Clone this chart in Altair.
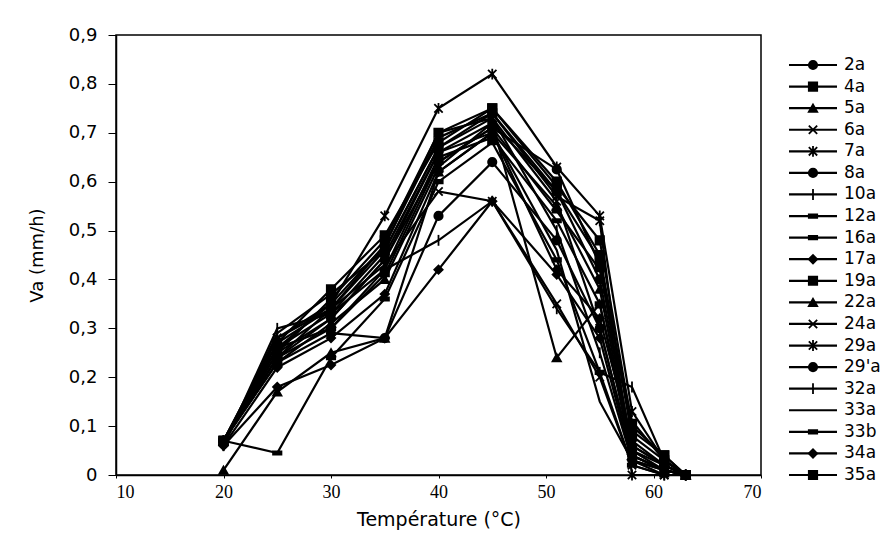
import altair as alt
import pandas as pd

# Temperatures (°C)
temps = [20, 25, 30, 35, 40, 45, 51, 55, 58, 61, 63]

# Series names (legend order)
names = ["2a", "4a", "5a", "6a", "7a", "8a", "10a", "12a", "16a", "17a",
         "19a", "22a", "24a", "29a", "29'a", "32a", "33a", "33b", "34a", "35a"]

# Va (mm/h) values, one list per series
s_2a   = [0.07, 0.26, 0.33, 0.45, 0.66, 0.72, 0.58, 0.40, 0.06, 0.02, 0.0]
s_4a   = [0.07, 0.25, 0.36, 0.48, 0.70, 0.75, 0.60, 0.45, 0.08, 0.03, 0.0]
s_5a   = [0.01, 0.17, 0.25, 0.28, 0.62, 0.70, 0.55, 0.38, 0.05, 0.01, 0.0]
s_6a   = [0.07, 0.27, 0.34, 0.47, 0.70, 0.73, 0.56, 0.30, 0.04, 0.01, 0.0]
s_7a   = [0.07, 0.28, 0.35, 0.53, 0.75, 0.82, 0.63, 0.53, 0.13, 0.03, 0.0]
s_8a   = [0.07, 0.24, 0.32, 0.44, 0.64, 0.71, 0.625, 0.43, 0.05, 0.02, 0.0]
s_10a  = [0.06, 0.29, 0.37, 0.46, 0.67, 0.73, 0.50, 0.25, 0.03, 0.0, 0.0]
s_12a  = [0.07, 0.045, 0.24, 0.36, 0.60, 0.68, 0.44, 0.21, 0.02, 0.0, 0.0]
s_16a  = [0.07, 0.26, 0.30, 0.42, 0.65, 0.69, 0.52, 0.35, 0.06, 0.02, 0.0]
s_17a  = [0.06, 0.18, 0.225, 0.28, 0.42, 0.56, 0.41, 0.28, 0.03, 0.01, 0.0]
s_19a  = [0.07, 0.27, 0.38, 0.49, 0.68, 0.75, 0.59, 0.48, 0.10, 0.04, 0.0]
s_22a  = [0.07, 0.23, 0.31, 0.40, 0.63, 0.72, 0.24, 0.35, 0.04, 0.01, 0.0]
s_24a  = [0.07, 0.28, 0.34, 0.43, 0.58, 0.56, 0.35, 0.20, 0.02, 0.0, 0.0]
s_29a  = [0.07, 0.26, 0.35, 0.47, 0.69, 0.74, 0.57, 0.52, 0.0, 0.0, 0.0]
s_29pa = [0.07, 0.23, 0.29, 0.28, 0.53, 0.64, 0.48, 0.30, 0.04, 0.01, 0.0]
s_32a  = [0.06, 0.30, 0.33, 0.42, 0.48, 0.56, 0.34, 0.21, 0.18, 0.03, 0.0]
s_33a  = [0.07, 0.25, 0.32, 0.44, 0.66, 0.70, 0.46, 0.15, 0.03, 0.01, 0.0]
s_33b  = [0.07, 0.24, 0.30, 0.41, 0.64, 0.71, 0.54, 0.42, 0.11, 0.03, 0.0]
s_34a  = [0.06, 0.22, 0.28, 0.37, 0.62, 0.70, 0.42, 0.32, 0.07, 0.02, 0.0]
s_35a  = [0.07, 0.24, 0.34, 0.46, 0.67, 0.74, 0.58, 0.44, 0.09, 0.04, 0.0]

series = [s_2a, s_4a, s_5a, s_6a, s_7a, s_8a, s_10a, s_12a, s_16a, s_17a,
          s_19a, s_22a, s_24a, s_29a, s_29pa, s_32a, s_33a, s_33b, s_34a, s_35a]

# Marker shapes per series
CIRCLE = "circle"
SQUARE = "square"
TRI = "triangle-up"
XS = "M-1,-1L1,1M-1,1L1,-1"
AST = "M-1,-1L1,1M-1,1L1,-1M0,-1.3L0,1.3"
PLUS = "M0,-1.3L0,1.3"
DASH = "M-1,-0.4L1,-0.4L1,0.4L-1,0.4Z"
DIAM = "diamond"
NONE = "M0,0L0,0"
shapes = [CIRCLE, SQUARE, TRI, XS, AST, CIRCLE, PLUS, DASH, DASH, DIAM,
          SQUARE, TRI, XS, AST, CIRCLE, PLUS, NONE, DASH, DIAM, SQUARE]

rows = []
for n, vals in zip(names, series):
    for t, v in zip(temps, vals):
        rows.append({"serie": n, "T": t, "Va": v})
df = pd.DataFrame(rows)

shape_scale = alt.Scale(domain=names, range=shapes)

x_enc = alt.X("T:Q", scale=alt.Scale(domain=[10, 70], nice=False),
              axis=alt.Axis(values=[10, 20, 30, 40, 50, 60, 70], format="d",
                            title="Température (°C)", grid=False,
                            labelFont="Liberation Serif", labelFontSize=18,
                            labelColor="black", labelPadding=5,
                            titleFont="DejaVu Sans", titleFontSize=19,
                            titleFontWeight="normal", titleColor="black",
                            titlePadding=9, tickSize=3, tickColor="black",
                            domainColor="black", domainWidth=1.5))
y_enc = alt.Y("Va:Q", scale=alt.Scale(domain=[0, 0.9], nice=False),
              axis=alt.Axis(values=[0, 0.1, 0.2, 0.3, 0.4, 0.5, 0.6, 0.7, 0.8, 0.9],
                            labelExpr="datum.value == 0 ? '0' : replace(format(datum.value, '.1f'), '.', ',')",
                            title="Va (mm/h)", grid=False,
                            labelFont="DejaVu Sans", labelFontSize=18,
                            labelColor="black", labelPadding=11,
                            titleFont="DejaVu Sans", titleFontSize=18,
                            titleFontWeight="normal", titleColor="black",
                            titlePadding=22, tickSize=8, tickColor="black",
                            domainColor="black", domainWidth=1.5))

base = alt.Chart(df)
lines = base.mark_line(color="black", strokeWidth=2.2).encode(
    x=x_enc, y=y_enc, detail="serie:N", order="T:Q")
points = base.mark_point(filled=True, color="black", stroke="black",
                         strokeWidth=1.8, opacity=1, size=70).encode(
    x=x_enc, y=y_enc,
    shape=alt.Shape("serie:N", scale=shape_scale, legend=None))

main = alt.layer(lines, points).properties(
    width=645, height=440,
    view=alt.ViewBackground(stroke="black", strokeWidth=1.5))

# Manual legend (line + marker + label)
leg_df = pd.DataFrame({"serie": names})
ly = alt.Y("serie:N", sort=names,
           scale=alt.Scale(type="point", domain=names, range=[30, 440], padding=0),
           axis=None)
leg_base = alt.Chart(leg_df)
leg_rule = leg_base.mark_rule(color="black", strokeWidth=2.2).encode(
    x=alt.value(0), x2=alt.value(48), y=ly)
leg_pt = leg_base.mark_point(filled=True, color="black", stroke="black",
                             strokeWidth=1.8, opacity=1, size=70).encode(
    x=alt.value(24), y=ly,
    shape=alt.Shape("serie:N", scale=shape_scale, legend=None))
leg_txt = leg_base.mark_text(align="left", baseline="middle", font="DejaVu Sans",
                             fontSize=17, color="black").encode(
    x=alt.value(55), y=ly, text="serie:N")
legend = alt.layer(leg_rule, leg_pt, leg_txt).properties(
    width=95, height=440,
    view=alt.ViewBackground(stroke="transparent"))

chart = alt.hconcat(main, legend, spacing=24).properties(
    padding={"left": 27, "top": 25, "right": 0, "bottom": 0}
).configure_view(stroke="black")

chart.save("out.html", embed_options={"renderer": "svg", "actions": False})
